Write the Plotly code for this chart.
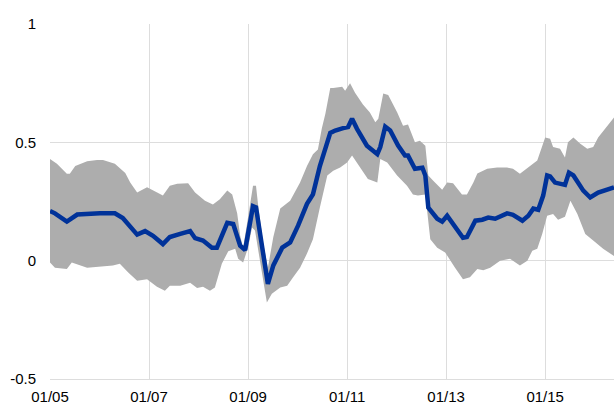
import plotly.graph_objects as go

# Decimal-year positions and values
mean_t = [2005.00, 2005.10, 2005.34, 2005.55, 2006.01, 2006.31, 2006.47, 2006.76, 2006.92, 2007.08,
          2007.28, 2007.42, 2007.63, 2007.83, 2007.93, 2008.09, 2008.27, 2008.37, 2008.58, 2008.70,
          2008.84, 2008.94, 2009.10, 2009.16, 2009.40, 2009.51, 2009.69, 2009.85, 2010.01, 2010.19,
          2010.31, 2010.45, 2010.66, 2010.76, 2010.92, 2011.02, 2011.10, 2011.20, 2011.40, 2011.61,
          2011.67, 2011.77, 2011.87, 2012.03, 2012.17, 2012.23, 2012.37, 2012.52, 2012.58, 2012.64,
          2012.82, 2012.92, 2013.02, 2013.14, 2013.34, 2013.42, 2013.59, 2013.73, 2013.85, 2013.99,
          2014.23, 2014.35, 2014.54, 2014.66, 2014.76, 2014.86, 2014.96, 2015.04, 2015.10, 2015.20,
          2015.30, 2015.40, 2015.48, 2015.57, 2015.77, 2015.91, 2016.07, 2016.25, 2016.39]
mean_v = [0.21, 0.20, 0.165, 0.195, 0.20, 0.20, 0.18, 0.11, 0.125, 0.105,
          0.07, 0.10, 0.113, 0.125, 0.095, 0.085, 0.055, 0.055, 0.16, 0.155,
          0.063, 0.045, 0.23, 0.225, -0.098, -0.02, 0.055, 0.077, 0.148, 0.24,
          0.28, 0.40, 0.54, 0.55, 0.56, 0.565, 0.60, 0.557, 0.486, 0.45,
          0.48, 0.566, 0.55, 0.486, 0.444, 0.444, 0.388, 0.393, 0.36, 0.224,
          0.177, 0.165, 0.19, 0.157, 0.097, 0.10, 0.169, 0.173, 0.182, 0.177,
          0.20, 0.194, 0.169, 0.19, 0.22, 0.215, 0.275, 0.36, 0.356, 0.33,
          0.327, 0.32, 0.372, 0.36, 0.296, 0.267, 0.288, 0.30, 0.31]

upper_t = [2005.00, 2005.14, 2005.34, 2005.40, 2005.51, 2005.75, 2005.95, 2006.07, 2006.31, 2006.52,
           2006.62, 2006.76, 2006.96, 2007.08, 2007.28, 2007.42, 2007.57, 2007.79, 2007.93, 2008.13,
           2008.29, 2008.43, 2008.58, 2008.68, 2008.78, 2008.84, 2008.90, 2009.00, 2009.10, 2009.16,
           2009.20, 2009.30, 2009.40, 2009.51, 2009.65, 2009.85, 2010.05, 2010.19, 2010.31, 2010.41,
           2010.49, 2010.56, 2010.66, 2010.72, 2010.90, 2010.96, 2011.06, 2011.16, 2011.32, 2011.46,
           2011.57, 2011.63, 2011.73, 2011.83, 2012.01, 2012.13, 2012.23, 2012.37, 2012.47, 2012.58,
           2012.64, 2012.74, 2012.92, 2013.02, 2013.14, 2013.32, 2013.42, 2013.55, 2013.63, 2013.83,
           2014.03, 2014.23, 2014.35, 2014.49, 2014.70, 2014.84, 2015.00, 2015.10, 2015.16, 2015.30,
           2015.40, 2015.46, 2015.57, 2015.71, 2015.85, 2015.97, 2016.07, 2016.25, 2016.39]
upper_v = [0.43, 0.41, 0.367, 0.367, 0.40, 0.42, 0.425, 0.425, 0.41, 0.37,
           0.33, 0.288, 0.31, 0.296, 0.275, 0.317, 0.325, 0.327, 0.288, 0.253,
           0.237, 0.26, 0.296, 0.28, 0.20, 0.105, 0.055, 0.183, 0.317, 0.317,
           0.24, 0.08, -0.03, 0.10, 0.22, 0.253, 0.33, 0.40, 0.45, 0.47,
           0.56, 0.62, 0.73, 0.73, 0.735, 0.718, 0.75, 0.71, 0.66, 0.626,
           0.585, 0.60, 0.706, 0.70, 0.627, 0.57, 0.575, 0.50, 0.507, 0.486,
           0.36, 0.338, 0.30, 0.33, 0.327, 0.28, 0.28, 0.33, 0.368, 0.388,
           0.394, 0.394, 0.388, 0.367, 0.40, 0.423, 0.52, 0.515, 0.48, 0.473,
           0.436, 0.50, 0.52, 0.494, 0.473, 0.48, 0.52, 0.57, 0.605]

lower_t = [2005.00, 2005.10, 2005.34, 2005.44, 2005.75, 2006.01, 2006.27, 2006.41, 2006.58, 2006.76,
           2006.96, 2007.16, 2007.32, 2007.42, 2007.63, 2007.83, 2007.97, 2008.09, 2008.23, 2008.33,
           2008.47, 2008.60, 2008.74, 2008.80, 2008.90, 2009.00, 2009.08, 2009.14, 2009.24, 2009.38,
           2009.48, 2009.65, 2009.79, 2009.91, 2010.05, 2010.19, 2010.31, 2010.45, 2010.60, 2010.72,
           2010.86, 2011.00, 2011.10, 2011.20, 2011.42, 2011.61, 2011.67, 2011.81, 2012.01, 2012.21,
           2012.33, 2012.43, 2012.58, 2012.68, 2012.82, 2012.98, 2013.18, 2013.34, 2013.48, 2013.63,
           2013.75, 2013.89, 2014.09, 2014.29, 2014.49, 2014.64, 2014.74, 2014.84, 2014.94, 2015.04,
           2015.16, 2015.26, 2015.40, 2015.51, 2015.65, 2015.81, 2015.97, 2016.17, 2016.39]
lower_v = [-0.008, -0.03, -0.035, -0.008, -0.03, -0.025, -0.02, -0.013, -0.05, -0.085,
           -0.078, -0.11, -0.127, -0.106, -0.106, -0.093, -0.115, -0.11, -0.127, -0.113,
           -0.013, 0.04, 0.05, 0.008, -0.008, 0.055, 0.14, 0.127, 0.0, -0.177,
           -0.14, -0.113, -0.106, -0.07, -0.03, 0.03, 0.09, 0.225, 0.36, 0.38,
           0.394, 0.415, 0.444, 0.415, 0.345, 0.33, 0.43, 0.415, 0.36, 0.317,
           0.28, 0.275, 0.28, 0.09, 0.055, 0.035, -0.03, -0.078, -0.07, -0.035,
           -0.04, -0.03, 0.0, 0.008, -0.02, 0.0, 0.042, 0.05, 0.113, 0.19,
           0.197, 0.173, 0.186, 0.253, 0.197, 0.113, 0.085, 0.05, 0.02]

x_tick_vals = [2005, 2007, 2009, 2011, 2013, 2015]
x_tick_text = ["01/05", "01/07", "01/09", "01/11", "01/13", "01/15"]
y_tick_vals = [-0.5, 0, 0.5, 1]
y_tick_text = ["-0.5", "0", "0.5", "1"]

fig = go.Figure()
fig.add_trace(go.Scatter(
    x=upper_t + lower_t[::-1],
    y=upper_v + lower_v[::-1],
    fill="toself", fillcolor="#ADADAD",
    line=dict(width=0, color="#ADADAD"),
    mode="lines", hoverinfo="skip", showlegend=False,
))
fig.add_trace(go.Scatter(
    x=mean_t, y=mean_v, mode="lines",
    line=dict(color="#003299", width=4.5),
    showlegend=False,
))

fig.update_layout(
    width=614, height=404,
    margin=dict(l=50, r=0, t=24, b=25),
    paper_bgcolor="white", plot_bgcolor="white",
    font=dict(family="Liberation Sans, Arial, sans-serif", size=15, color="#000000"),
)
fig.update_xaxes(
    range=[2005, 2016.39], tickvals=x_tick_vals, ticktext=x_tick_text,
    showgrid=True, gridcolor="#DDDDDD", gridwidth=1, zeroline=False,
    showline=True, linecolor="#DDDDDD", linewidth=1,
    ticks="outside", ticklen=4, tickcolor="rgba(0,0,0,0)",
)
fig.update_yaxes(
    range=[-0.5, 1], tickvals=y_tick_vals, ticktext=y_tick_text,
    showgrid=True, gridcolor="#DDDDDD", gridwidth=1, zeroline=False,
    ticks="outside", ticklen=10, tickcolor="rgba(0,0,0,0)",
)

fig.write_html(
    "out.html",
    config={"displayModeBar": False},
    post_script="document.body.style.margin='0';document.body.style.overflow='hidden';",
)
